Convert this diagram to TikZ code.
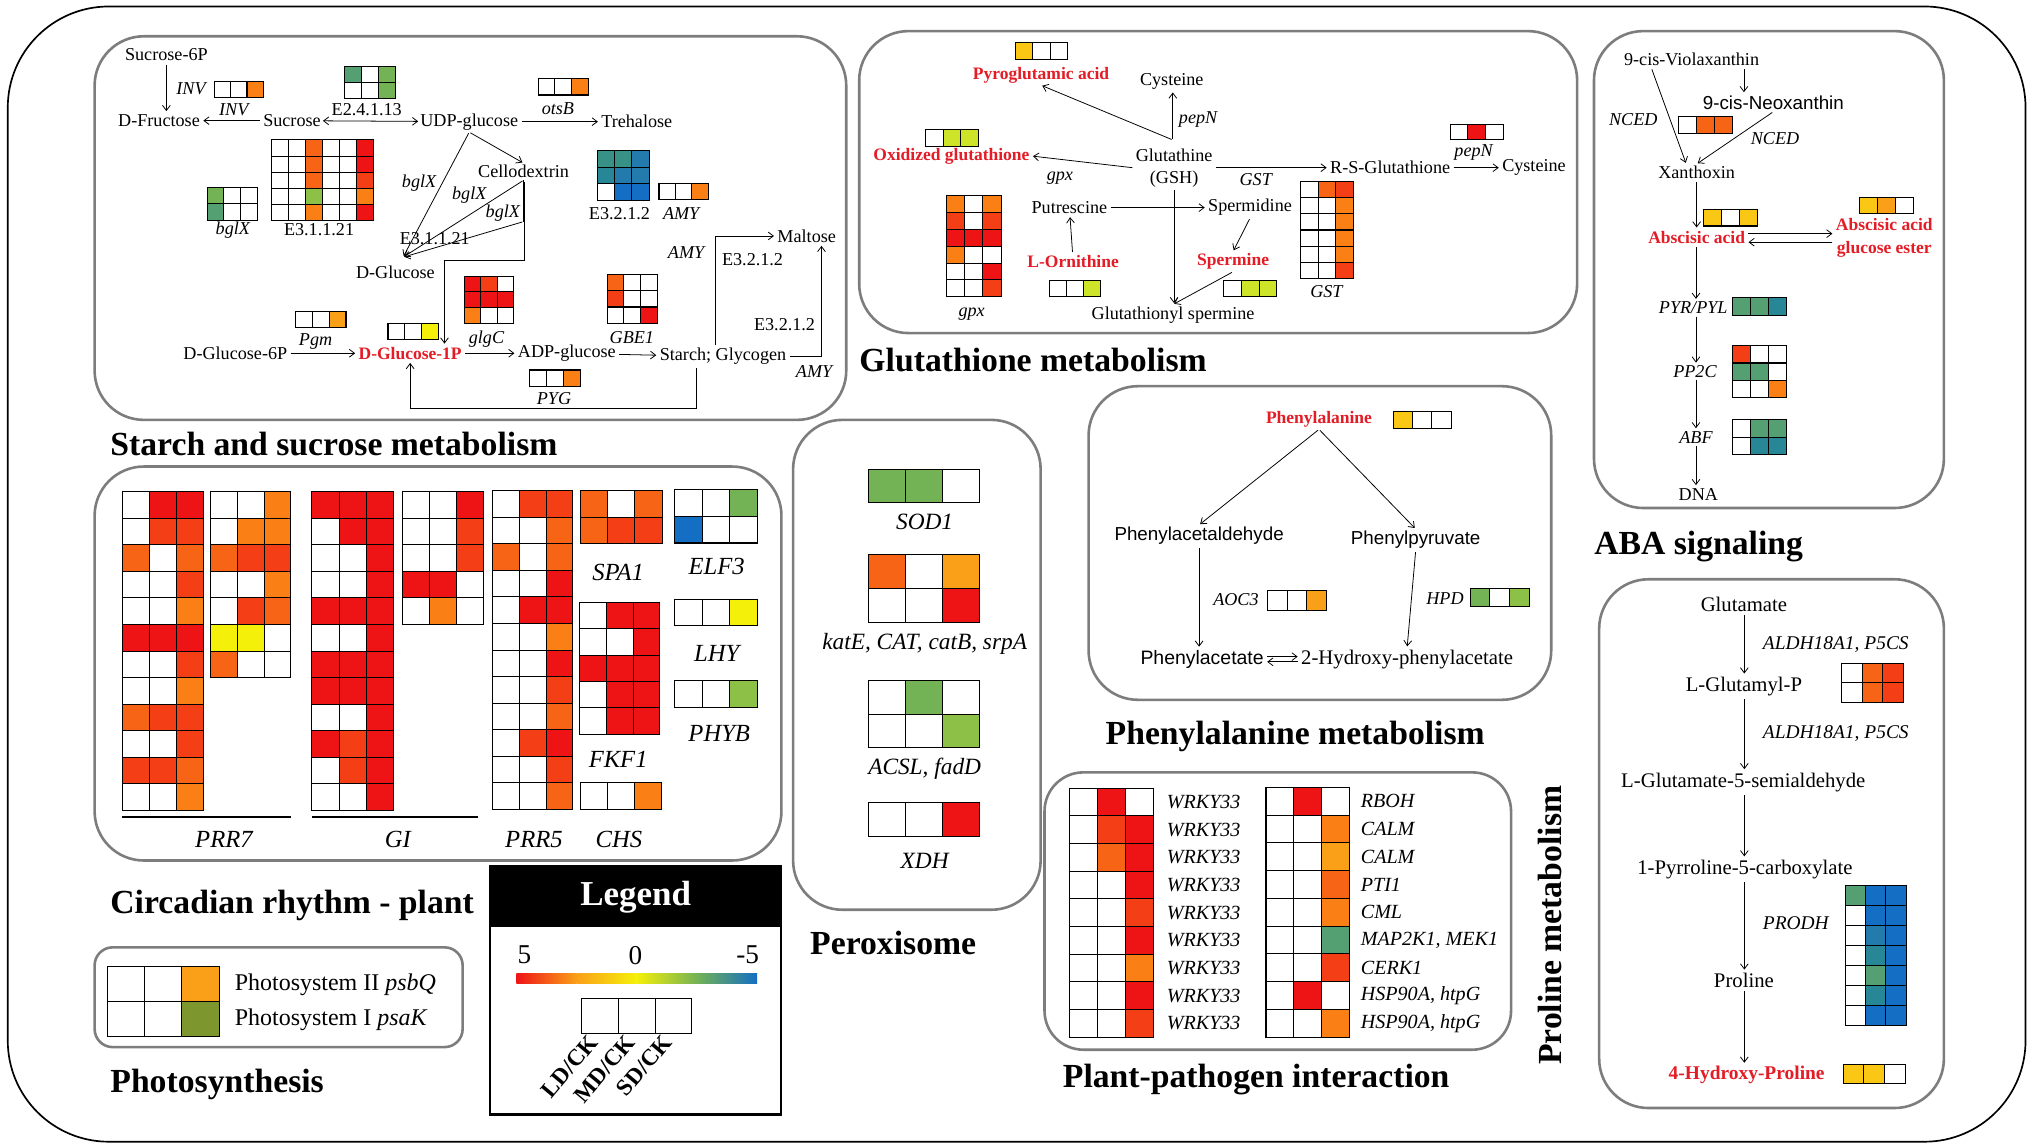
\documentclass[tikz,border=0pt]{standalone}
\usepackage{fontspec}
\setmainfont{Liberation Serif}
\newfontfamily\arialfont{Liberation Sans}
\usetikzlibrary{arrows.meta,positioning}

% heatmap colours
\definecolor{hmw}{RGB}{255,255,255}
\definecolor{hmr}{RGB}{238,20,22}
\definecolor{hms}{RGB}{244,62,22}
\definecolor{hmo}{RGB}{248,100,22}
\definecolor{hmp}{RGB}{250,128,22}
\definecolor{hmq}{RGB}{250,160,24}
\definecolor{hmg}{RGB}{250,200,20}
\definecolor{hmy}{RGB}{245,240,10}
\definecolor{hml}{RGB}{205,228,40}
\definecolor{hme}{RGB}{115,178,85}
\definecolor{hmf}{RGB}{140,192,70}
\definecolor{hmt}{RGB}{85,160,115}
\definecolor{hmd}{RGB}{55,145,135}
\definecolor{hmu}{RGB}{40,135,150}
\definecolor{hmc}{RGB}{35,122,172}
\definecolor{hmb}{RGB}{20,110,195}
\definecolor{hmk}{RGB}{125,150,45}
\definecolor{metred}{RGB}{228,28,38}
\definecolor{boxgray}{RGB}{125,125,125}

\newcommand{\fs}[1]{\fontsize{#1}{#1}\selectfont}
% \heatmap{x}{y}{cell width}{cell height}{rows}
\newcommand{\heatmap}[5]{%
  \foreach \hrow [count=\hi] in {#5}{%
    \foreach \hcol [count=\hj] in \hrow{%
      \draw[cell,fill=hm\hcol] ({#1+(\hj-1)*#3},{#2+(\hi-1)*#4}) rectangle ++(#3,#4);
    }%
  }%
}

\begin{document}
\begin{tikzpicture}
  [x=1pt,y=-1pt,
   cell/.style={draw=black,line width=0.8pt},
   panel/.style={draw=boxgray,line width=2pt,rounded corners=38pt},
   arr/.style={-{Straight Barb[length=4pt,width=6pt]},line width=0.6pt,shorten >=1pt,shorten <=1pt},
   arrs/.style={{Straight Barb[length=4pt,width=6pt]}-{Straight Barb[length=4pt,width=6pt]},line width=0.6pt},
   lbl/.style={font=\fs{14},inner sep=1.5pt},
   gene/.style={font=\fs{14}\itshape,inner sep=1pt},
   met/.style={font=\fs{13.5}\bfseries,text=metred,inner sep=1.5pt},
   sans/.style={font=\arialfont\fs{14.5},inner sep=1.5pt},
   ttl/.style={font=\fs{26}\bfseries,anchor=west,inner sep=0pt},
   cgene/.style={font=\fs{19}\itshape},
   xgene/.style={font=\fs{18}\itshape},
   plbl/.style={font=\fs{16},inner sep=1.5pt},
   pgene/.style={font=\fs{15}\itshape,anchor=west},
   pmet/.style={font=\fs{15}\bfseries,text=metred,inner sep=1.5pt},
   ppg/.style={font=\fs{15.5}\itshape,anchor=west,inner sep=0pt}]
\useasboundingbox (0,0) rectangle (1568,885.8);
\fill[white] (0,0) rectangle (1568,885.8);
\draw[line width=1.3pt,rounded corners=78pt] (6,5) rectangle (1563,881);

% panels
\draw[panel] (73,28) rectangle (653,324);
\draw[panel] (663,24) rectangle (1217,257);
\draw[panel] (1230,24) rectangle (1500,392);
\draw[panel] (73,360) rectangle (603,664);
\draw[panel] (612,324) rectangle (803,702);
\draw[panel] (840,298) rectangle (1197,540);
\draw[panel,rounded corners=30pt] (806,596) rectangle (1166,810);
\draw[panel] (1234,447) rectangle (1500,855);
\draw[panel,rounded corners=14pt] (73,731) rectangle (357,808);

% titles
\node[ttl] (tstarch) at (85,343) {Starch and sucrose metabolism};
\node[ttl] (tglut) at (663,278) {Glutathione metabolism};
\node[ttl] (taba) at (1230,422) {ABA signaling};
\node[ttl] (tcirc) at (85,699) {Circadian rhythm - plant};
\node[ttl] (tperox) at (625,728) {Peroxisome};
\node[ttl] (tphe) at (853,568) {Phenylalanine metabolism};
\node[ttl] (tpp) at (820,833) {Plant-pathogen interaction};
\node[ttl] (tphoto) at (85,837) {Photosynthesis};
\node[ttl,rotate=90,anchor=center] (tpro) at (1196,714) {Proline metabolism};

% ---------- starch and sucrose
\node[lbl] (suc6p) at (128.4,42.4) {Sucrose-6P};
\node[lbl] (fru) at (122.7,93.1) {D-Fructose};
\node[lbl] (suc) at (225.3,93.1) {Sucrose};
\node[lbl] (udp) at (362.1,93.9) {UDP-glucose};
\node[lbl] (tre) at (491.4,93.9) {Trehalose};
\node[lbl] (cello) at (404,132.5) {Cellodextrin};
\node[lbl] (dglc) at (305.1,210.4) {D-Glucose};
\node[lbl] (g6p) at (181.6,272.6) {D-Glucose-6P};
\node[met] (g1p) at (316.5,272.6) {D-Glucose-1P};
\node[lbl] (adpg) at (437.4,272.6) {ADP-glucose};
\node[lbl] (starch) at (557.9,275.2) {Starch; Glycogen};
\node[lbl] (malt) at (622.5,182.1) {Maltose};

\node[gene] (invA) at (147.4,68.2) {INV};
\heatmap{165.2}{63}{12.7}{12.4}{{w,w,p}}
\node[gene] (invB) at (180.4,84.9) {INV};
\heatmap{266}{51}{13}{12.4}{{t,w,e},{w,w,e}}
\node[lbl] (e24) at (283,84.9) {E2.4.1.13};
\heatmap{415.3}{60.4}{12.9}{12.9}{{w,w,p}}
\node[gene] (otsb) at (430.5,84.1) {otsB};
\heatmap{209.3}{108}{13.1}{12.46}{{w,w,o,w,w,r},{w,w,o,w,w,r},{w,w,o,w,w,s},{w,w,f,w,w,p},{w,w,p,w,w,r}}
\node[lbl] (e31a) at (246.2,177.5) {E3.1.1.21};
\heatmap{159.9}{144.8}{12.9}{12.5}{{e,w,w},{t,w,w}}
\node[gene] (bglxA) at (179.7,177.5) {bglX};
\heatmap{461}{116.3}{13.3}{12.7}{{d,d,c},{u,c,c},{w,b,b}}
\node[lbl] (e32a) at (478,164.6) {E3.2.1.2};
\heatmap{508.5}{141.5}{12.7}{12.8}{{w,w,p}}
\node[gene] (amyA) at (525.6,164.6) {AMY};
\node[gene] (bglxB) at (323.4,141.5) {bglX};
\node[gene] (bglxC) at (362.1,150.5) {bglX};
\node[gene] (bglxD) at (388,164.6) {bglX};
\node[lbl] (e31b) at (335.5,183.9) {E3.1.1.21};
\node[gene] (amyB) at (529.4,195) {AMY};
\node[lbl] (e32b) at (580.7,200) {E3.2.1.2};
\node[lbl] (e32c) at (605.4,250.8) {E3.2.1.2};
\node[gene] (amyC) at (628.2,286.8) {AMY};
\heatmap{228.3}{240.5}{12.9}{12.3}{{w,w,q}}
\node[gene] (pgm) at (243.5,263.6) {Pgm};
\heatmap{299.4}{249.5}{12.9}{12.8}{{w,w,y}}
\heatmap{358.3}{213}{12.7}{12.2}{{r,s,w},{r,r,r},{p,w,w}}
\node[gene] (glgc) at (375.4,261.8) {glgC};
\heatmap{468.5}{211.7}{12.9}{12.6}{{o,w,w},{s,w,w},{w,w,r}}
\node[gene] (gbe) at (487.6,260.3) {GBE1};
\heatmap{408.9}{285.5}{12.9}{12.8}{{w,w,p}}
\node[gene] (pyg) at (427.5,307.4) {PYG};

\coordinate (dglcin) at (311,198.5);
\coordinate (cK) at (404,171);
\coordinate (cC) at (405,200.6);
\coordinate (cD) at (343,200.6);
\coordinate (mUp) at (552.2,181.3);
\coordinate (mRt) at (633.9,194);
\coordinate (retB) at (537,315);
\draw[arr] (suc6p.south) -- (suc6p.south |- fru.north);
\draw[arr] (suc) -- (fru);
\draw[arrs] (suc) -- (udp);
\draw[arr] (udp) -- (tre);
\draw[arr] (udp.south) -- (cello.north);
\draw[arr] (udp.south) -- (dglcin);
\draw[arr] (cello.south) -- (dglcin);
\draw[line width=0.6pt] (cello.south) -- (cK);
\draw[arr] (cK) -- (dglcin);
\draw[arr] (cello.south -| cC) -- (cC) -- (cD) -- (cD |- g1p.north);
\draw[arr] (g6p) -- (g1p);
\draw[arr] (g1p) -- (adpg);
\draw[arr] (adpg) -- (starch);
\draw[arr] (mUp |- starch.north) -- (mUp |- malt.west) -- (malt.west);
\draw[arr] (starch.east) -- (starch.east -| mRt) -- (mRt |- malt.south);
\draw[arr] (retB |- starch.south) -- (retB) -- (retB -| g1p) -- (g1p.south);

% ---------- glutathione
\heatmap{783.3}{32.7}{13.6}{13.1}{{g,w,w}}
\node[met] (pyro) at (803.3,57.9) {Pyroglutamic acid};
\node[lbl] (cys1) at (904.2,62.5) {Cysteine};
\node[gene] (pepnA) at (924.5,92.1) {pepN};
\node[lbl,align=center] (gsh) at (906,129.5) {Glutathine\\[2.7pt](GSH)};
\heatmap{714.1}{100.3}{13.6}{12.9}{{w,l,l}}
\node[met] (oxg) at (734.2,120.4) {Oxidized glutathione};
\node[gene] (gpxA) at (817.9,137.1) {gpx};
\node[gene] (gstA) at (969,138.9) {GST};
\node[lbl] (rsg) at (1072.7,129.4) {R-S-Glutathione};
\heatmap{1118.9}{95.9}{13.7}{12.1}{{w,r,w}}
\node[gene] (pepnB) at (1137.1,117.8) {pepN};
\node[lbl] (cys2) at (1183.7,129.4) {Cysteine};
\heatmap{730.5}{151}{14}{13}{{p,w,p},{s,w,s},{r,r,r},{p,w,w},{w,w,r},{w,w,s}}
\node[gene] (gpxB) at (749.8,242.5) {gpx};
\node[lbl] (put) at (825.2,160.2) {Putrescine};
\node[lbl] (spd) at (964.6,160.2) {Spermidine};
\node[met] (orn) at (828.1,201.9) {L-Ornithine};
\heatmap{809.5}{216.8}{13.3}{12.2}{{w,w,l}}
\node[met] (spm) at (951.5,201.9) {Spermine};
\heatmap{944.2}{216.8}{13.7}{12.2}{{w,l,l}}
\node[lbl] (gsp) at (905.2,243) {Glutathionyl spermine};
\heatmap{1003.5}{140.2}{13.7}{12.43}{{w,o,s},{w,w,p},{w,w,p},{w,w,p},{w,w,p},{w,w,s}}
\node[gene] (gstB) at (1023.5,225) {GST};

\coordinate (gshtop) at (905,108);
\draw[arr] (gshtop) -- (gshtop |- cys1.south);
\draw[arr] (gshtop) -- (pyro.south);
\draw[arr] (gsh.west) -- (oxg.east);
\draw[arr] (gsh.east |- rsg.west) -- (rsg.west);
\draw[arr] (rsg) -- (cys2);
\draw[arr] (put) -- (spd);
\draw[arr] (orn) -- (put);
\draw[arr] (spd.south) -- (spm.north);
\draw[arr] (gsh.south) -- (gsh.south |- gsp.north);
\draw[arr] (spm.south) -- (gsp.north);

% ---------- ABA signaling
\node[lbl] (viol) at (1305.3,45.9) {9-cis-Violaxanthin};
\node[sans] (neox) at (1368.4,79.2) {9-cis-Neoxanthin};
\node[gene] (ncedA) at (1260.3,92.5) {NCED};
\heatmap{1295}{89.8}{14}{13.3}{{w,o,o}}
\node[gene] (ncedB) at (1369.7,106.6) {NCED};
\node[lbl] (xan) at (1309.2,133.2) {Xanthoxin};
\heatmap{1314.3}{161.6}{13.9}{12.8}{{g,w,g}}
\node[met] (aba) at (1309.2,183) {Abscisic acid};
\heatmap{1435.2}{152.3}{13.7}{12.8}{{g,q,w}}
\node[met,align=center] (abage) at (1454,183.6) {Abscisic acid\\[3.8pt]glucose ester};
\node[gene] (pyr) at (1306.6,237.5) {PYR/PYL};
\heatmap{1337}{229.5}{13.9}{13.9}{{t,t,u}}
\node[gene] (pp2c) at (1307.9,286.7) {PP2C};
\heatmap{1337}{266.8}{13.9}{13.3}{{s,w,w},{t,t,w},{w,w,p}}
\node[gene] (abf) at (1308.7,337.3) {ABF};
\heatmap{1337}{324}{13.9}{13.3}{{w,t,t},{w,u,u}}
\node[lbl] (dna) at (1310.5,381.7) {DNA};

\coordinate (vn) at (1345.7,60);
\coordinate (abax) at (1308.7,200);
\draw[arr] (vn |- viol.south) -- (vn |- neox.north);
\draw[arr] ([xshift=-31pt]viol.south) -- ([xshift=-8pt]xan.north);
\draw[arr] (neox.south) -- (xan.north);
\draw[arr] (xan.south) -- (xan.south |- aba.north);
\draw[arr] ([yshift=2.7pt]aba.east) -- ([yshift=2.7pt]aba.east -| abage.west);
\draw[arr] ([yshift=-3.9pt]aba.east -| abage.west) -- ([yshift=-3.9pt]aba.east);
\foreach \from/\to in {aba/pyr,pyr/pp2c,pp2c/abf,abf/dna}
  \draw[arr] (abax |- \from.south) -- (abax |- \to.north);

% ---------- proline
\node[plbl] (glu) at (1345.7,466.4) {Glutamate};
\node[pgene] (aldhA) at (1356.8,497) {ALDH18A1, P5CS};
\heatmap{1421.1}{511.7}{15.9}{15.25}{{w,o,s},{w,o,s}}
\node[plbl] (glup) at (1345.7,529.7) {L-Glutamyl-P};
\node[pgene] (aldhB) at (1356.8,566.2) {ALDH18A1, P5CS};
\node[plbl] (semi) at (1345.2,603.5) {L-Glutamate-5-semialdehyde};
\node[plbl] (p5c) at (1346.5,670.8) {1-Pyrroline-5-carboxylate};
\node[pgene] (prodh) at (1356.8,712.5) {PRODH};
\heatmap{1423.7}{683.3}{15.8}{15.4}{{t,b,b},{w,b,b},{w,c,b},{w,u,b},{w,t,b},{w,u,b},{w,b,b}}
\node[plbl] (pro) at (1345.7,756.5) {Proline};
\node[pmet] (hyp) at (1347.8,829.6) {4-Hydroxy-Proline};
\heatmap{1422.4}{821.6}{15.9}{14.7}{{g,g,w}}
\coordinate (prox) at (1346,600);
\foreach \from/\to in {glu/glup,glup/semi,semi/p5c,p5c/pro,pro/hyp}
  \draw[arr] (prox |- \from.south) -- (prox |- \to.north);

% ---------- circadian rhythm
\heatmap{94.2}{379.4}{21}{20.5}{{w,r,r},{w,s,s},{o,w,o},{w,w,s},{w,w,p},{r,r,r},{w,w,s},{w,w,p},{o,s,s},{w,w,s},{s,s,o},{w,w,p}}
\heatmap{162.4}{379.4}{20.7}{20.5}{{w,w,p},{w,p,p},{o,s,s},{w,w,p},{w,s,o},{y,y,w},{o,w,w}}
\heatmap{240.7}{379.4}{21}{20.5}{{r,r,r},{w,r,r},{w,w,r},{w,w,r},{r,r,r},{w,w,r},{r,r,r},{r,r,r},{w,w,r},{r,s,r},{w,s,r},{w,w,r}}
\heatmap{310.6}{379.4}{20.9}{20.5}{{w,w,r},{w,w,s},{w,w,s},{r,r,w},{w,p,w}}
\heatmap{380.2}{378.6}{20.6}{20.5}{{w,s,s},{w,w,o},{o,w,o},{w,w,r},{w,r,r},{w,w,p},{w,w,r},{w,w,s},{w,w,o},{w,s,r},{w,w,s},{w,w,o}}
\heatmap{447.7}{378.6}{21.1}{20.5}{{o,w,o},{o,s,s}}
\heatmap{520.7}{378}{21.2}{20.5}{{w,w,e},{b,w,w}}
\heatmap{520.7}{462.5}{21.2}{20.5}{{w,w,y}}
\heatmap{520.7}{525.2}{21.2}{20.6}{{w,w,f}}
\heatmap{447.3}{465}{20.6}{20.3}{{w,r,r},{w,w,r},{r,r,r},{w,r,r},{w,r,r}}
\heatmap{447.7}{604}{21}{20.5}{{w,w,p}}
\draw[line width=1.4pt] (94,630.6) -- (224.5,630.6);
\draw[line width=1.4pt] (240.7,630.6) -- (369,630.6);
\node[cgene] (prr7) at (172.8,648) {PRR7};
\node[cgene] (gi) at (307,648) {GI};
\node[cgene] (prr5) at (412,648) {PRR5};
\node[cgene] (chs) at (477.6,648) {CHS};
\node[cgene] (spa1) at (477,442) {SPA1};
\node[cgene] (elf3) at (553,437) {ELF3};
\node[cgene] (lhy) at (553,504) {LHY};
\node[cgene] (phyb) at (555,566) {PHYB};
\node[cgene] (fkf1) at (477,586) {FKF1};

% ---------- peroxisome
\heatmap{670}{362}{28.7}{26}{{e,e,w}}
\node[xgene] (sod) at (713.5,403) {SOD1};
\heatmap{670}{428}{28.7}{26}{{o,w,q},{w,w,r}}
\node[xgene] (kate) at (713.5,497) {katE, CAT, catB, srpA};
\heatmap{670}{525}{28.7}{26}{{w,e,w},{w,w,f}}
\node[xgene] (acsl) at (713.5,593) {ACSL, fadD};
\heatmap{670}{619.5}{28.7}{26}{{w,w,r}}
\node[xgene] (xdh) at (713.5,664) {XDH};

% ---------- phenylalanine
\node[met] (phe) at (1017.8,323.5) {Phenylalanine};
\heatmap{1075.3}{317.5}{14.8}{13.5}{{g,w,w}}
\node[sans] (phald) at (925.3,413.5) {Phenylacetaldehyde};
\node[sans] (phpyr) at (1092.4,416.6) {Phenylpyruvate};
\node[gene] (aoc3) at (953.7,462.9) {AOC3};
\heatmap{978.2}{455.7}{15.1}{15.5}{{w,w,q}}
\node[gene] (hpd) at (1115,461.6) {HPD};
\heatmap{1134.4}{453.9}{15.3}{14.2}{{e,w,f}}
\node[sans,font=\arialfont\fs{15}] (phac) at (927.6,508.7) {Phenylacetate};
\node[lbl,font=\fs{16}] (hyd) at (1085.8,508.7) {2-Hydroxy-phenylacetate};
\draw[arr] (phe.south) -- (phald.north);
\draw[arr] (phe.south) -- (phpyr.north);
\draw[arr] (phald.south) -- (phald.south |- phac.north);
\draw[arr] (phpyr.south) -- (hyd.north);
\draw[arr] ([yshift=2pt]phac.east) -- ([yshift=2pt]phac.east -| hyd.west);
\draw[arr] ([yshift=-2pt]phac.east -| hyd.west) -- ([yshift=-2pt]phac.east);

% ---------- plant-pathogen interaction
\heatmap{825.6}{608.3}{21.6}{21.34}{{w,r,w},{w,s,r},{w,o,r},{w,w,r},{w,w,s},{w,w,r},{w,w,p},{w,w,r},{w,w,s}}
\foreach \i in {1,...,9}
  \node[ppg] (wrky\i) at (900.2,{608.3+(\i-0.5)*21.34}) {WRKY33};
\heatmap{976.9}{607.5}{21.4}{21.43}{{w,r,w},{w,w,p},{w,w,q},{w,w,o},{w,w,p},{w,w,t},{w,w,s},{w,r,w},{w,w,p}}
\foreach \g [count=\i] in {RBOH,CALM,CALM,PTI1,CML,{MAP2K1, MEK1},CERK1,{HSP90A, htpG},{HSP90A, htpG}}
  \node[ppg] (ppr\i) at (1049.9,{607.5+(\i-0.5)*21.43}) {\g};

% ---------- photosynthesis
\heatmap{83}{746}{28.7}{27}{{w,w,q},{w,w,k}}
\node[anchor=west,font=\fs{18.5},inner sep=0pt] (ps2) at (181,760) {Photosystem II \textit{psbQ}};
\node[anchor=west,font=\fs{18.5},inner sep=0pt] (ps1) at (181,787) {Photosystem I \textit{psaK}};

% ---------- legend
\fill[black] (378,668) rectangle (603,715);
\draw[line width=1.6pt] (378,668) rectangle (603,860);
\node[font=\fs{27}\bfseries,text=white] (leg) at (490.5,692) {Legend};
\shade[left color=hmr,right color=hmq] (398.4,750.9) rectangle (445,759.2);
\shade[left color=hmq,right color=hmy] (445,750.9) rectangle (491,759.2);
\shade[left color=hmy,right color=hme] (491,750.9) rectangle (538,759.2);
\shade[left color=hme,right color=hmb] (538,750.9) rectangle (584.2,759.2);
\node[font=\fs{21}] (lfive) at (404.6,737) {5};
\node[font=\fs{21}] (lzero) at (490.4,737) {0};
\node[font=\fs{21}] (lmfive) at (577,737) {-5};
\heatmap{448.7}{770.3}{28.4}{27}{{w,w,w}}
\foreach \t [count=\i] in {LD/CK,MD/CK,SD/CK}
  \node[font=\fs{18}\bfseries,rotate=50,anchor=east,inner sep=0pt] (lc\i) at ({448.7+(\i-0.5)*28.4-5},801) {\t};
\end{tikzpicture}
\end{document}
